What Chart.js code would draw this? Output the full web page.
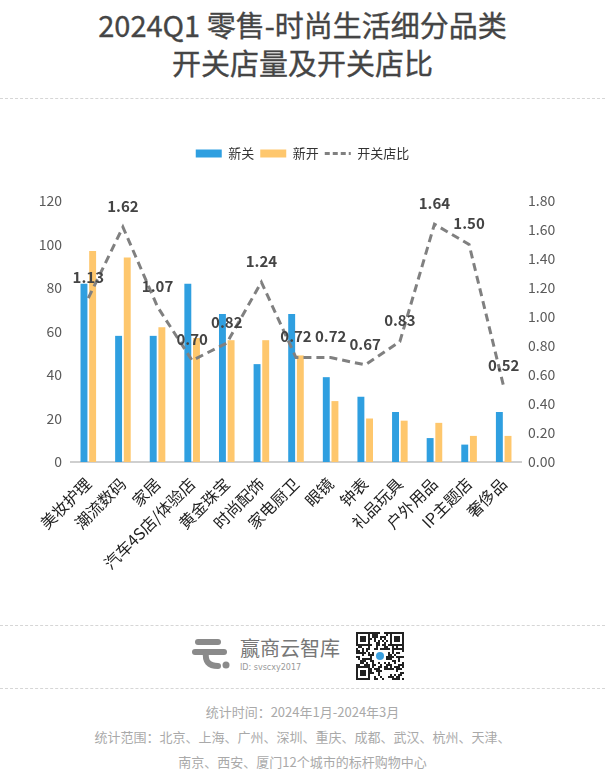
<!DOCTYPE html>
<html>
<head>
<meta charset="utf-8">
<script src="https://cdn.jsdelivr.net/npm/chart.js@4"></script>
<style>
  html, body { margin: 0; padding: 0; background: #fff; }
  body { width: 605px; height: 778px; position: relative; overflow: hidden;
         font-family: "Noto Sans CJK SC", "Noto Sans", sans-serif; }
  .title { position: absolute; top: 5px; left: 0; width: 605px; text-align: center;
           color: #454545; font-size: 29px; line-height: 38px; font-weight: 400;
           -webkit-text-stroke: 0.35px #454545; }
  .rule { position: absolute; left: 0; width: 605px; border-top: 1px dashed #d6d6d6; }
  #wrap { position: absolute; top: 100px; left: 0; width: 605px; height: 520px; }
  .brand { position: absolute; left: 240px; top: 636px; color: #777; font-size: 20px; line-height: 24px; }
  .brand-id { position: absolute; left: 240px; top: 663px; color: #999; font-size: 8px; font-family: "DejaVu Sans", sans-serif; }
  .foot { position: absolute; left: 0; width: 605px; text-align: center; color: #a9a9a9; font-size: 13px; }
</style>
</head>
<body>
<div class="title">2024Q1 零售-时尚生活细分品类<br>开关店量及开关店比</div>
<div class="rule" style="top:98px"></div>
<div id="wrap"><canvas id="chart" width="605" height="520"></canvas></div>
<div class="rule" style="top:625px"></div>
<canvas id="logo" width="40" height="40" style="position:absolute;left:192px;top:634px"></canvas>
<div class="brand">赢商云智库</div>
<div class="brand-id">ID: svscxy2017</div>
<canvas id="qr" width="48" height="48" style="position:absolute;left:356px;top:632px"></canvas>
<div class="rule" style="top:688px"></div>
<div class="foot" style="top:702px">统计时间：2024年1月-2024年3月</div>
<div class="foot" style="top:727px">统计范围：北京、上海、广州、深圳、重庆、成都、武汉、杭州、天津、</div>
<div class="foot" style="top:752px">南京、西安、厦门12个城市的标杆购物中心</div>

<script>
// categories and series
const categories = ["美妆护理", "潮流数码", "家居", "汽车4S店/体验店", "黄金珠宝", "时尚配饰",
  "家电厨卫", "眼镜", "钟表", "礼品玩具", "户外用品", "IP主题店", "奢侈品"];
const closed = [82, 58, 58, 82, 68, 45, 68, 39, 30, 23, 11, 8, 23];
const opened = [97, 94, 62, 57, 56, 56, 49, 28, 20, 19, 18, 12, 12];
const ratio = [1.13, 1.62, 1.07, 0.70, 0.82, 1.24, 0.72, 0.72, 0.67, 0.83, 1.64, 1.50, 0.52];
const leftTicks = [0, 20, 40, 60, 80, 100, 120];
const rightTicks = [0, 0.2, 0.4, 0.6, 0.8, 1.0, 1.2, 1.4, 1.6, 1.8];

const FONT = '"Noto Sans CJK SC", "Noto Sans", sans-serif';

// ratio labels above the dashed line
const ratioLabels = {
  id: "ratioLabels",
  afterDatasetsDraw(chart) {
    const meta = chart.getDatasetMeta(2);
    const ctx = chart.ctx;
    ctx.save();
    ctx.font = "bold 15px " + FONT;
    ctx.fillStyle = "#444";
    ctx.textAlign = "center";
    ctx.textBaseline = "middle";
    meta.data.forEach((pt, i) => {
      ctx.fillText(ratio[i].toFixed(2), pt.x, pt.y - 21);
    });
    ctx.restore();
  }
};

// push the plot down below the legend, and draw the dashed legend sample
const legendGap = {
  id: "legendGap",
  beforeInit(chart) {
    const fit = chart.legend.fit;
    chart.legend.fit = function () {
      fit.bind(chart.legend)();
      this.height += 31;
    };
  },
  afterDraw(chart) {
    const box = chart.legend.legendHitBoxes[2];
    if (!box) return;
    const ctx = chart.ctx;
    const y = box.top + box.height / 2;
    ctx.save();
    ctx.strokeStyle = "#808080";
    ctx.lineWidth = 3;
    ctx.setLineDash([5, 3]);
    ctx.beginPath();
    ctx.moveTo(box.left, y);
    ctx.lineTo(box.left + 26, y);
    ctx.stroke();
    ctx.restore();
  }
};

new Chart(document.getElementById("chart"), {
  type: "bar",
  data: {
    labels: categories,
    datasets: [
      { label: "新关", data: closed, backgroundColor: "#2f9fe0", yAxisID: "y", order: 2,
        barPercentage: 0.8, categoryPercentage: 0.5 },
      { label: "新开", data: opened, backgroundColor: "#fec76d", yAxisID: "y", order: 2,
        barPercentage: 0.8, categoryPercentage: 0.5 },
      { label: "开关店比", type: "line", data: ratio, yAxisID: "y1", order: 1,
        borderColor: "#808080", backgroundColor: "#808080", borderWidth: 3,
        borderDash: [8, 5], pointRadius: 0, tension: 0, fill: false }
    ]
  },
  options: {
    responsive: false,
    animation: false,
    layout: { padding: { top: 41, left: 0, right: 0, bottom: 0 } },
    plugins: {
      tooltip: { enabled: false },
      legend: {
        position: "top",
        labels: {
          font: { family: FONT, size: 13 },
          color: "#333",
          boxWidth: 26,
          boxHeight: 8,
          padding: 6,
          sort: (a, b) => a.datasetIndex - b.datasetIndex,
          generateLabels(chart) {
            const items = Chart.defaults.plugins.legend.labels.generateLabels(chart);
            items.forEach(it => {
              it.lineWidth = 0;
              if (it.datasetIndex === 2) {
                it.fillStyle = "rgba(0,0,0,0)";
                it.strokeStyle = "rgba(0,0,0,0)";
              }
            });
            return items;
          }
        }
      }
    },
    scales: {
      x: {
        grid: { display: false, drawTicks: false },
        border: { color: "#cfcfcf", width: 2 },
        ticks: {
          color: "#222",
          font: { family: FONT, size: 16 },
          minRotation: 45, maxRotation: 45, padding: 12, autoSkip: false
        },
        afterFit(scale) { scale.height = 158; }
      },
      y: {
        position: "left",
        min: 0, max: 120,
        afterBuildTicks(scale) { scale.ticks = leftTicks.map(v => ({ value: v })); },
        grid: { display: false, drawTicks: false },
        border: { display: false },
        ticks: { color: "#5a5a5a", font: { family: FONT, size: 14 }, padding: 9 },
        afterFit(scale) { scale.width = 71; }
      },
      y1: {
        position: "right",
        min: 0, max: 1.8,
        afterBuildTicks(scale) { scale.ticks = rightTicks.map(v => ({ value: v })); },
        grid: { display: false, drawTicks: false },
        border: { display: false },
        ticks: {
          color: "#5a5a5a", font: { family: FONT, size: 14 }, padding: 7,
          callback: v => Number(v).toFixed(2)
        },
        afterFit(scale) { scale.width = 84; }
      }
    }
  },
  plugins: [ratioLabels, legendGap]
});

// brand mark
(function () {
  const c = document.getElementById("logo").getContext("2d");
  c.fillStyle = "#8a8a8a";
  c.strokeStyle = "#8a8a8a";
  c.lineCap = "round";
  c.lineWidth = 6;
  c.beginPath(); c.moveTo(6, 8); c.lineTo(26, 8); c.stroke();
  c.beginPath(); c.moveTo(3, 18); c.lineTo(32, 18); c.stroke();
  c.beginPath(); c.moveTo(14, 18); c.quadraticCurveTo(12, 32, 26, 32); c.stroke();
  c.beginPath(); c.arc(34, 31, 3.5, 0, Math.PI * 2); c.fill();
})();

// QR-like badge
(function () {
  const c = document.getElementById("qr").getContext("2d");
  c.fillStyle = "#fff"; c.fillRect(0, 0, 48, 48);
  c.fillStyle = "#222";
  const cell = 2;
  let s = 7;
  for (let y = 0; y < 24; y++) {
    for (let x = 0; x < 24; x++) {
      s = (s * 1103515245 + 12345) & 0x7fffffff;
      if ((s >> 16) & 1) c.fillRect(x * cell, y * cell, cell, cell);
    }
  }
  const finder = (x, y) => {
    c.fillStyle = "#222"; c.fillRect(x, y, 14, 14);
    c.fillStyle = "#fff"; c.fillRect(x + 2, y + 2, 10, 10);
    c.fillStyle = "#222"; c.fillRect(x + 4, y + 4, 6, 6);
  };
  finder(0, 0); finder(34, 0); finder(0, 34);
  c.fillStyle = "#fff"; c.fillRect(18, 18, 12, 12);
  c.fillStyle = "#3aa0e0"; c.beginPath(); c.arc(24, 24, 4, 0, Math.PI * 2); c.fill();
})();
</script>
</body>
</html>
